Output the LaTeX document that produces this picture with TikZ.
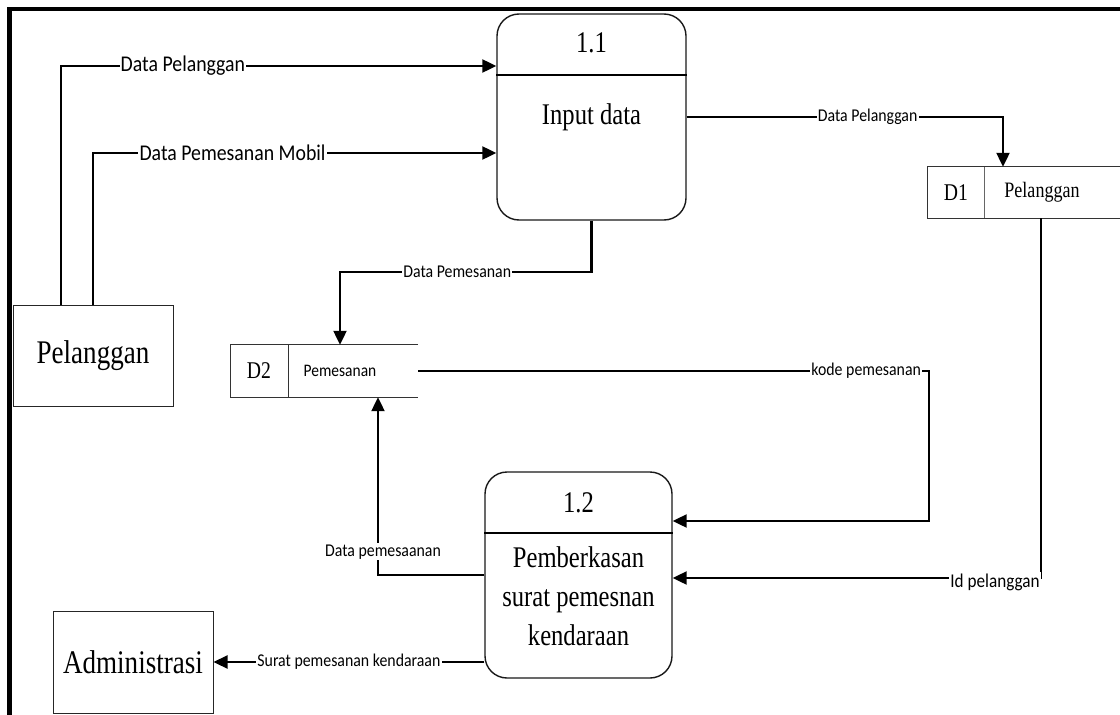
\documentclass[tikz,border=0pt]{standalone}
\usepackage{fontspec}
\setmainfont{Liberation Serif}
\newfontfamily\lblfont[FakeStretch=0.88]{Carlito}
\newfontfamily\boxfont[FakeStretch=0.82]{Liberation Serif}
\usetikzlibrary{arrows.meta}

\tikzset{
  flow/.style={line width=2.2pt, -{Triangle[length=14pt,width=13pt]}},
  lbl/.style={fill=white, inner sep=1.2pt, text=black, font=\lblfont\fontsize{18}{20}\selectfont},
  biglbl/.style={lbl, font=\lblfont\fontsize{22.5}{25}\selectfont},
  entity/.style={draw=black!85, line width=1pt, minimum width=160pt, inner sep=0pt,
                 font=\boxfont\fontsize{33}{38}\selectfont},
  proc/.style={draw=black!90, line width=1.4pt, rounded corners=22pt, inner sep=0pt},
  proctext/.style={inner sep=0pt, align=center, font=\boxfont\fontsize{30}{39}\selectfont},
  divider/.style={line width=2pt},
  storeline/.style={draw=black!80, line width=1pt},
  storeid/.style={inner sep=0pt, font=\boxfont\fontsize{24}{26}\selectfont},
}

\begin{document}
\begin{tikzpicture}[x=1pt, y=-1pt]
  \useasboundingbox (0,0) rectangle (1120,715);

  % page frame (top and left edges)
  \draw[line width=4.5pt] (7,9) -- (1120,9);
  \draw[line width=5pt] (9.5,7) -- (9.5,715);

  % external entities
  \node[entity, minimum height=101pt] (pel) at (93,355.5) {Pelanggan};
  \node[entity, minimum height=102pt] (adm) at (133,662) {Administrasi};

  % process 1.1
  \node[proc, minimum width=189pt, minimum height=206pt] (p11) at (591.5,117) {};
  \draw[divider] (p11.west |- 0,75) -- (p11.east |- 0,75);
  \node[proctext] (p11num) at (591.5,43) {1.1};
  \node[proctext] (p11txt) at (591.5,117) {Input data};

  % process 1.2
  \node[proc, minimum width=187pt, minimum height=206pt] (p12) at (578.5,575) {};
  \draw[divider] (p12.west |- 0,533) -- (p12.east |- 0,533);
  \node[proctext] (p12num) at (578.5,503) {1.2};
  \node[proctext] (p12txt) at (578.5,596) {Pemberkasan\\surat pemesnan\\kendaraan};

  % data store D1
  \node[inner sep=0pt, minimum width=192pt, minimum height=51pt] (d1) at (1024,192.5) {};
  \draw[storeline] (d1.north east) -- (d1.north west) -- (d1.south west) -- (d1.south east);
  \draw[storeline, draw=black!60] (984,0 |- d1.north) -- (984,0 |- d1.south);
  \node[storeid] (d1id) at (956,192.5) {D1};
  \node[storeid, font=\boxfont\fontsize{22}{24}\selectfont] (d1name) at (1042,192.5) {Pelanggan};

  % data store D2
  \node[inner sep=0pt, minimum width=187pt, minimum height=52pt] (d2) at (324.5,371) {};
  \draw[storeline] (d2.north east) -- (d2.north west) -- (d2.south west) -- (d2.south east);
  \draw[storeline] (288,0 |- d2.north) -- (288,0 |- d2.south);
  \node[storeid] (d2id) at (259,371) {D2};
  \node[inner sep=0pt, font=\lblfont\fontsize{17.6}{19}\selectfont] (d2name) at (340,371) {Pemesanan};

  % data flows
  \draw[flow] (61,0 |- pel.north) |- (p11.west |- 0,66)
    node[biglbl, pos=0.64] {Data Pelanggan};
  \draw[flow] (93,0 |- pel.north) |- (p11.west |- 0,153)
    node[biglbl, pos=0.673] {Data Pemesanan Mobil};
  \draw[flow] (p11.east) -| (1003,0 |- d1.north)
    node[lbl, pos=0.286] {Data Pelanggan};
  \draw[flow] (p11.south) -- (p11.south |- 0,272) -| (340,0 |- d2.north)
    node[lbl, pos=0.267] {Data Pemesanan};
  \draw[flow] (d2.east) -- (929,0 |- d2.east)
    node[lbl, pos=0.877] {kode pemesanan}
    |- (p12.east |- 0,521);
  \draw[flow] (1041,0 |- d1.south) |- (p12.east |- 0,578)
    node[lbl, pos=0.5625, yshift=-4pt, font=\lblfont\fontsize{19.5}{21}\selectfont] {Id pelanggan};
  \draw[flow] (p12.west |- 0,575) -| (378,0 |- d2.south)
    node[lbl, pos=0.565, xshift=5pt] {Data pemesaanan};
  \draw[flow] (p12.west |- adm.east) -- (adm.east)
    node[lbl, midway] {Surat pemesanan kendaraan};
\end{tikzpicture}
\end{document}
